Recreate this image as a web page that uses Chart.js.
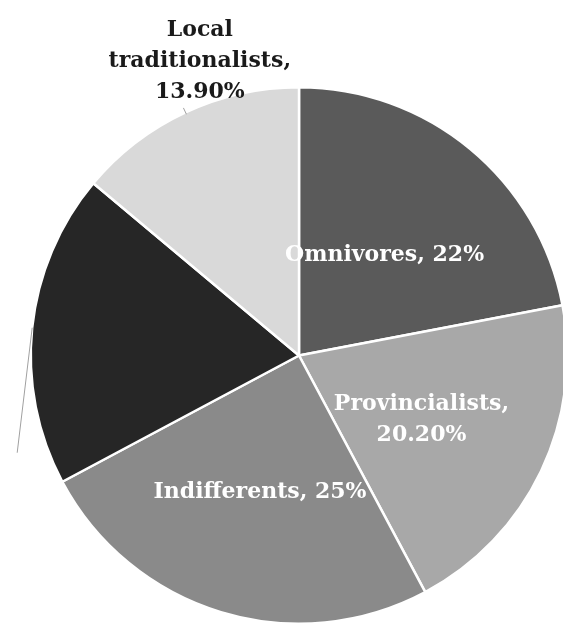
<!DOCTYPE html>
<html>
<head>
<meta charset="utf-8">
<script src="https://cdn.jsdelivr.net/npm/chart.js@4/dist/chart.umd.min.js"></script>
<style>
  html, body { margin: 0; padding: 0; background: #fff; overflow: hidden; }
  #wrap { width: 563px; height: 627px; overflow: hidden; }
</style>
</head>
<body>
<div id="wrap"><canvas id="pie" width="570" height="627"></canvas></div>
<script>
const categories = ["Omnivores", "Provincialists", "Indifferents", "", "Local traditionalists"];
const shares = [22, 20.2, 25, 18.9, 13.9];
const shareText = ["22%", "20.20%", "25%", "", "13.90%"];
const sliceColors = ["#5a5a5a", "#a8a8a8", "#8a8a8a", "#262626", "#d9d9d9"];

// label placement: radial fraction, angle tweak (deg), text lines, colour
const labelSpots = [
  { r: 0.49, da: 1, lines: ["Omnivores, 22%"], color: "#ffffff" },
  { r: 0.515, da: 2, lines: ["Provincialists,", "20.20%"], color: "#ffffff" },
  { r: 0.53, da: -1, lines: ["Indifferents, 25%"], color: "#ffffff" },
  null,
  { r: 1.158, da: 6.4, lines: ["Local", "traditionalists,", "13.90%"], color: "#1a1a1a" }
];

const labelPlugin = {
  id: "sliceLabels",
  afterDatasetsDraw(chart) {
    const ctx = chart.ctx;
    const arcs = chart.getDatasetMeta(0).data;
    ctx.save();
    ctx.font = "bold 22px 'DejaVu Serif'";
    ctx.textAlign = "center";
    ctx.textBaseline = "middle";
    arcs.forEach((arc, i) => {
      const p = arc.getProps(["x", "y", "startAngle", "endAngle", "outerRadius"], true);
      const mid = (p.startAngle + p.endAngle) / 2;
      // leader lines
      if (i === 3) {
        ctx.strokeStyle = "#a0a0a0";
        ctx.lineWidth = 1;
        ctx.beginPath();
        ctx.moveTo(p.x + Math.cos(mid) * p.outerRadius, p.y + Math.sin(mid) * p.outerRadius);
        ctx.lineTo(p.x + Math.cos(mid) * p.outerRadius - 15, p.y + Math.sin(mid) * p.outerRadius + 125);
        ctx.stroke();
      }
      if (i === 4) {
        ctx.strokeStyle = "#a0a0a0";
        ctx.lineWidth = 1;
        ctx.beginPath();
        ctx.moveTo(p.x + Math.cos(mid) * (p.outerRadius - 2), p.y + Math.sin(mid) * (p.outerRadius - 2));
        ctx.lineTo(p.x + Math.cos(mid) * (p.outerRadius + 5), p.y + Math.sin(mid) * (p.outerRadius + 5));
        ctx.stroke();
      }
      const spot = labelSpots[i];
      if (!spot) return;
      const a = mid + spot.da * Math.PI / 180;
      const cx = p.x + Math.cos(a) * p.outerRadius * spot.r;
      const cy = p.y + Math.sin(a) * p.outerRadius * spot.r;
      const lh = 31;
      ctx.fillStyle = spot.color;
      spot.lines.forEach((t, k) => {
        ctx.fillText(t, cx, cy + (k - (spot.lines.length - 1) / 2) * lh);
      });
    });
    ctx.restore();
  }
};

new Chart(document.getElementById("pie"), {
  type: "pie",
  data: {
    labels: categories,
    datasets: [{
      data: shares,
      backgroundColor: sliceColors,
      borderColor: "#ffffff",
      borderWidth: 2.5
    }]
  },
  options: {
    responsive: false,
    animation: false,
    layout: { padding: { left: 29.5, right: 1.5, top: 86, bottom: 2 } },
    plugins: {
      legend: { display: false },
      tooltip: { enabled: false }
    }
  },
  plugins: [labelPlugin]
});
</script>
</body>
</html>
